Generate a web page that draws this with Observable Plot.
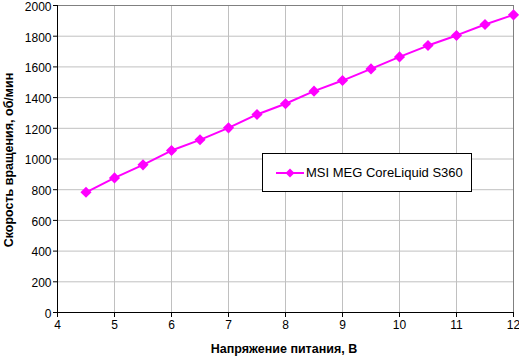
<!DOCTYPE html>
<html>
<head>
<meta charset="utf-8">
<script src="https://cdn.jsdelivr.net/npm/d3@7"></script>
<script src="https://cdn.jsdelivr.net/npm/@observablehq/plot@0.6"></script>
<style>
  html, body { margin: 0; padding: 0; background: #fff; }
  #wrap { position: relative; width: 519px; height: 357px; font-family: "Liberation Sans", Arial, sans-serif; }
  #legend { position: absolute; left: 262px; top: 153px; width: 210px; height: 39px; border: 1px solid #000; background: #fff; box-sizing: border-box; display: flex; align-items: center; font-size: 13px; }
  #legend svg { margin-left: 13px; margin-right: 2px; }
</style>
</head>
<body>
<div id="wrap"></div>
<script>
const series = "MSI MEG CoreLiquid S360";
const voltage = [4.5, 5, 5.5, 6, 6.5, 7, 7.5, 8, 8.5, 9, 9.5, 10, 10.5, 11, 11.5, 12];
const rpm = [783, 877, 962, 1055, 1125, 1203, 1290, 1360, 1442, 1511, 1587, 1665, 1739, 1805, 1876, 1939];
const xTicks = [4, 5, 6, 7, 8, 9, 10, 11, 12];
const yTicks = [0, 200, 400, 600, 800, 1000, 1200, 1400, 1600, 1800, 2000];
const xLabel = "Напряжение питания, В";
const yLabel = "Скорость вращения, об/мин";

const data = voltage.map((v, i) => ({v, r: rpm[i]}));
const color = "#ff00ff";

const chart = Plot.plot({
  width: 519,
  height: 357,
  marginLeft: 57,
  marginRight: 6,
  marginTop: 5,
  marginBottom: 45,
  style: {fontFamily: "'Liberation Sans', Arial, sans-serif", fontSize: "12px", background: "#fff", color: "#000", overflow: "visible"},
  x: {domain: [4, 12], ticks: xTicks, label: null},
  y: {domain: [0, 2000], ticks: yTicks, label: null},
  marks: [
    Plot.gridX(xTicks, {stroke: "#c0c0c0", strokeOpacity: 1, strokeWidth: 1}),
    Plot.gridY(yTicks, {stroke: "#c0c0c0", strokeOpacity: 1, strokeWidth: 1}),
    Plot.frame({stroke: "#808080", strokeWidth: 1}),
    Plot.axisX(xTicks, {tickSize: 5, tickPadding: 3, stroke: "#000", fontSize: 12, tickFormat: d => String(d)}),
    Plot.axisY(yTicks, {tickSize: 4, stroke: "#000", tickFormat: () => ""}),
    Plot.axisY(yTicks, {tickSize: 0, tickPadding: 6, strokeOpacity: 0, fontSize: 12, dy: 1.5, tickFormat: d => String(d)}),
    Plot.ruleX([4], {stroke: "#000", strokeWidth: 1}),
    Plot.ruleY([0], {stroke: "#000", strokeWidth: 1}),
    Plot.line(data, {x: "v", y: "r", stroke: color, strokeWidth: 2}),
    Plot.dot(data, {x: "v", y: "r", symbol: "diamond2", r: 5, fill: color, stroke: "none"})
  ]
});

const wrap = document.getElementById("wrap");
chart.style.position = "absolute";
chart.style.left = "0px";
chart.style.top = "0px";
wrap.appendChild(chart);

// axis titles
const svg = d3.select(chart);
svg.append("text")
  .attr("x", 284).attr("y", 353)
  .attr("text-anchor", "middle")
  .attr("font-weight", "bold").attr("font-size", 12.5)
  .attr("font-family", "'Liberation Sans', Arial, sans-serif")
  .text(xLabel);
svg.append("text")
  .attr("transform", "translate(13,160) rotate(-90)")
  .attr("text-anchor", "middle")
  .attr("font-weight", "bold").attr("font-size", 12.5)
  .attr("font-family", "'Liberation Sans', Arial, sans-serif")
  .text(yLabel);

// legend
const legend = document.createElement("div");
legend.id = "legend";
legend.innerHTML = `<svg width="28" height="12"><line x1="0" y1="6" x2="28" y2="6" stroke="${color}" stroke-width="2"/><path d="M14,1.5 L18.5,6 L14,10.5 L9.5,6 Z" fill="${color}"/></svg><span></span>`;
legend.querySelector("span").textContent = series;
wrap.appendChild(legend);
</script>
</body>
</html>
